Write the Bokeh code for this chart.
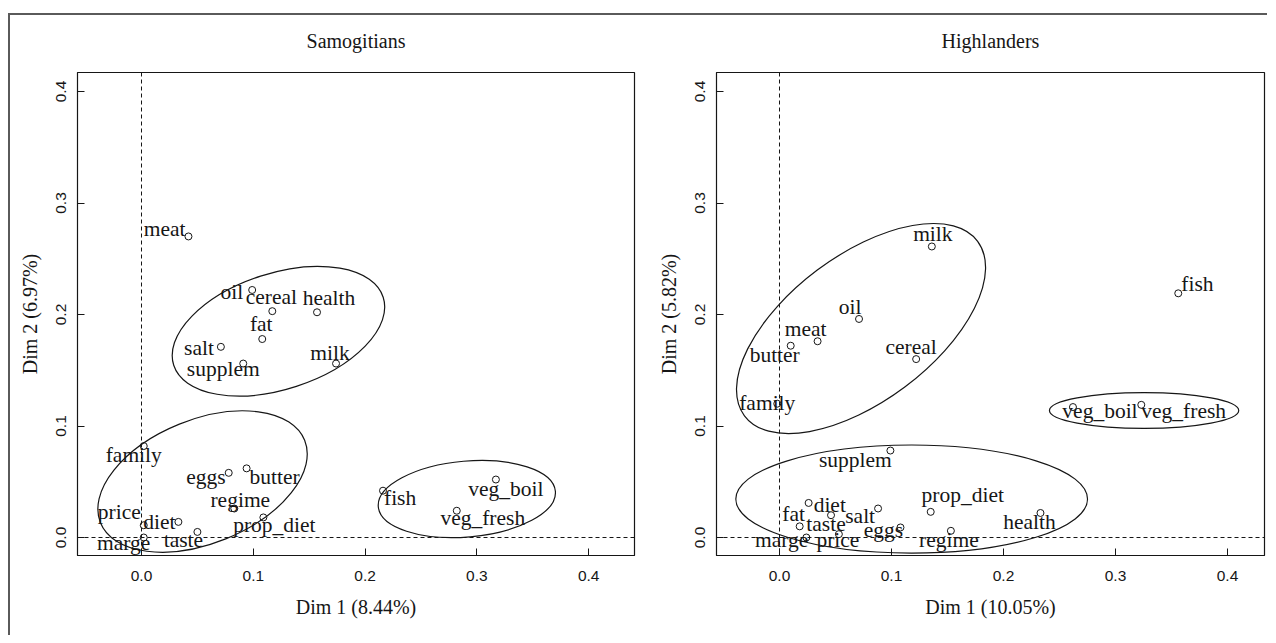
from bokeh.plotting import figure
from bokeh.layouts import row
from bokeh.models import (ColumnDataSource, Span, FixedTicker, PrintfTickFormatter,
                          Range1d, LinearAxis)
from bokeh.core.properties import value, field
from bokeh.embed import file_html
from bokeh.resources import INLINE

# ---------------- data ----------------
samo_names = ["meat", "oil", "cereal", "health", "fat", "salt", "supplem", "milk",
              "family", "eggs", "butter", "regime", "prop_diet", "price", "diet",
              "taste", "marge", "fish", "veg_boil", "veg_fresh"]
samo_dim1 = [0.042, 0.099, 0.117, 0.157, 0.108, 0.071, 0.091, 0.174,
             0.002, 0.078, 0.094, 0.083, 0.109, 0.002, 0.033,
             0.050, 0.002, 0.216, 0.317, 0.282]
samo_dim2 = [0.270, 0.222, 0.203, 0.202, 0.178, 0.171, 0.156, 0.156,
             0.082, 0.058, 0.062, 0.026, 0.018, 0.011, 0.014,
             0.005, 0.000, 0.042, 0.052, 0.024]

high_names = ["milk", "oil", "meat", "butter", "cereal", "family", "fish", "veg_boil",
              "veg_fresh", "supplem", "prop_diet", "fat", "diet", "taste", "salt",
              "eggs", "marge", "price", "regime", "health"]
high_dim1 = [0.136, 0.071, 0.034, 0.010, 0.122, -0.002, 0.356, 0.262,
             0.323, 0.099, 0.135, 0.018, 0.026, 0.046, 0.088,
             0.108, 0.024, 0.053, 0.153, 0.233]
high_dim2 = [0.261, 0.196, 0.176, 0.172, 0.160, 0.120, 0.219, 0.117,
             0.119, 0.078, 0.023, 0.010, 0.031, 0.020, 0.026,
             0.009, 0.000, 0.003, 0.006, 0.022]

# grouping ellipses (centre, full width, full height, angle in degrees)
samo_ell_x = [0.1225, 0.0546, 0.291]
samo_ell_y = [0.185, 0.0502, 0.0345]
samo_ell_w = [0.197, 0.197, 0.159]
samo_ell_h = [0.104, 0.111, 0.068]
samo_ell_a = [18, 22, 5]

high_ell_x = [0.0728, 0.118, 0.3255]
high_ell_y = [0.1874, 0.0345, 0.1139]
high_ell_w = [0.260, 0.314, 0.169]
high_ell_h = [0.131, 0.097, 0.032]
high_ell_a = [36.8, 0, 0]

tick_values = [0.0, 0.1, 0.2, 0.3, 0.4]

# ---------------- label layout (align, dx px, dy px down) ----------------
samo_lab = {
    "meat": ("right", -3, -1), "oil": ("right", -9, 8), "cereal": ("center", -1, -8),
    "health": ("center", 12, -8), "fat": ("center", -1, -9), "salt": ("right", -7, 7),
    "supplem": ("center", -20, 11), "milk": ("center", -6, -5), "family": ("center", -10, 15),
    "eggs": ("right", -3, 10), "butter": ("left", 3, 15), "regime": ("center", 6, -3),
    "prop_diet": ("center", 11, 14), "price": ("right", -3, -7), "diet": ("right", -3, 6),
    "taste": ("center", -14, 14), "marge": ("center", -20, 11), "fish": ("left", 1, 13),
    "veg_boil": ("center", 10, 15), "veg_fresh": ("center", 26, 13),
}
high_lab = {
    "milk": ("center", 1, -6), "oil": ("center", -9, -6), "meat": ("center", -12, -6),
    "butter": ("center", -16, 15), "cereal": ("center", -5, -6), "family": ("center", -10, 5),
    "fish": ("left", 3, -3), "veg_boil": ("center", 27, 10), "veg_fresh": ("left", 0, 12),
    "supplem": ("center", -35, 15), "prop_diet": ("center", 32, -11), "fat": ("center", -6, -6),
    "diet": ("left", 5, 8), "taste": ("center", -5, 15), "salt": ("right", -3, 13),
    "eggs": ("center", -17, 9), "marge": ("right", 2, 8), "price": ("center", -1, 12),
    "regime": ("center", -2, 15), "health": ("center", -11, 15),
}
LABEL_SHIFT = -6  # common vertical correction, px

SERIF = "Liberation Serif"
SANS = "Liberation Sans"
INK = "#161616"


def make_panel(title, names, d1, d2, ex, ey, ew, eh, ea, lab, xlab, ylab,
               xr, yr, mb_left, frame_w, mb_right):
    frame_h = 483
    mb_top, mb_bottom = 57, 80
    p = figure(width=mb_left + frame_w + mb_right, height=mb_top + frame_h + mb_bottom,
               x_range=Range1d(*xr), y_range=Range1d(*yr),
               output_backend="svg", toolbar_location=None,
               min_border_left=mb_left, min_border_right=mb_right,
               min_border_top=mb_top, min_border_bottom=mb_bottom)
    p.background_fill_color = "white"
    p.border_fill_color = "white"
    p.outline_line_color = INK
    p.outline_line_width = 1.2
    p.xgrid.visible = False
    p.ygrid.visible = False
    p.title.visible = False

    xax = p.below[0]
    yax = p.left[0]
    for ax, lbl in ((xax, xlab), (yax, ylab)):
        ax.ticker = FixedTicker(ticks=tick_values)
        ax.formatter = PrintfTickFormatter(format="%.1f")
        ax.axis_label = lbl
        ax.axis_label_text_font = SERIF
        ax.axis_label_text_font_size = "20px"
        ax.axis_label_text_font_style = "normal"
        ax.axis_label_text_color = INK
        ax.major_label_text_font = SANS
        ax.major_label_text_font_size = "15.5px"
        ax.major_label_text_color = INK
        ax.major_tick_in = 7
        ax.major_tick_out = 0
        ax.minor_tick_line_color = None
        ax.axis_line_color = INK
        ax.major_tick_line_color = INK
    xax.major_label_standoff = 15
    xax.axis_label_standoff = 12
    yax.major_label_orientation = "vertical"
    yax.major_label_standoff = 11
    yax.axis_label_standoff = 13

    # panel title as the label of a bare axis above the box
    top = LinearAxis(ticker=FixedTicker(ticks=[]), axis_label=title,
                     axis_line_color=None, major_tick_line_color=None,
                     minor_tick_line_color=None, major_tick_in=0, major_tick_out=0,
                     major_label_standoff=0, axis_label_standoff=21,
                     axis_label_text_font=SERIF, axis_label_text_font_size="20px",
                     axis_label_text_font_style="normal", axis_label_text_color=INK)
    p.add_layout(top, "above")

    p.add_layout(Span(location=0, dimension="height", line_dash="4 3",
                      line_color=INK, line_width=1))
    p.add_layout(Span(location=0, dimension="width", line_dash="4 3",
                      line_color=INK, line_width=1))

    p.ellipse(x=ex, y=ey, width=ew, height=eh, angle=ea, angle_units="deg",
              fill_color=None, line_color=INK, line_width=1.2)

    p.scatter(x=d1, y=d2, marker="circle", size=7, fill_color=None,
              line_color=INK, line_width=1)

    sx = frame_w / (xr[1] - xr[0])
    sy = frame_h / (yr[1] - yr[0])
    lx, ly, al = [], [], []
    for n, x, y in zip(names, d1, d2):
        a, dx, dy = lab[n]
        lx.append(x + dx / sx)
        ly.append(y - (dy + LABEL_SHIFT) / sy)
        al.append(a)
    src = ColumnDataSource(dict(x=lx, y=ly, text=names, align=al))
    p.text(x="x", y="y", text="text", source=src, text_align=field("align"),
           text_baseline="alphabetic", text_font=value(SERIF),
           text_font_size="21.5px", text_color=INK)
    return p


p1 = make_panel("Samogitians", samo_names, samo_dim1, samo_dim2,
                samo_ell_x, samo_ell_y, samo_ell_w, samo_ell_h, samo_ell_a,
                samo_lab, "Dim 1 (8.44%)", "Dim 2 (6.97%)",
                (-0.05725, 0.44097), (-0.01614, 0.41704), 67, 557, 14)
p2 = make_panel("Highlanders", high_names, high_dim1, high_dim2,
                high_ell_x, high_ell_y, high_ell_w, high_ell_h, high_ell_a,
                high_lab, "Dim 1 (10.05%)", "Dim 2 (5.82%)",
                (-0.05625, 0.43300), (-0.01614, 0.41704), 68, 548, 3)

layout = row(p1, p2, margin=(13, 0, 0, 8),
             styles={"border-top": "2px solid #5a5a5a", "border-left": "2px solid #5a5a5a"})

open("out.html", "w").write(file_html(layout, INLINE))
